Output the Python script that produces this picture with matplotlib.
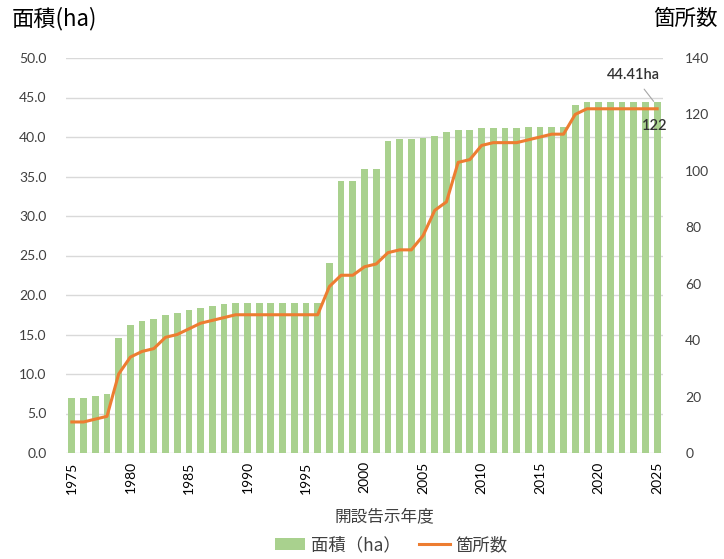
import matplotlib
matplotlib.use("Agg")
import matplotlib.pyplot as plt
import numpy as np

years = list(range(1975, 2026))
area_ha = [7.0, 7.0, 7.2, 7.5, 14.6, 16.2, 16.7, 16.9, 17.5, 17.7,
           18.1, 18.3, 18.6, 18.9, 19.0, 19.0, 19.0, 19.0, 19.0, 19.0,
           19.0, 19.0, 24.0, 34.4, 34.4, 36.0, 36.0, 39.5, 39.8, 39.8,
           39.9, 40.1, 40.6, 40.9, 40.9, 41.2, 41.2, 41.2, 41.2, 41.3,
           41.3, 41.3, 41.3, 44.1, 44.41, 44.41, 44.41, 44.41, 44.41, 44.41,
           44.41]
count = [11, 11, 12, 13, 28, 34, 36, 37, 41, 42,
         44, 46, 47, 48, 49, 49, 49, 49, 49, 49,
         49, 49, 59, 63, 63, 66, 67, 71, 72, 72,
         77, 86, 89, 103, 104, 109, 110, 110, 110, 111,
         112, 113, 113, 120, 122, 122, 122, 122, 122, 122,
         122]
xtick_years = [1975, 1980, 1985, 1990, 1995, 2000, 2005, 2010, 2015, 2020, 2025]
left_ticks = [0, 5, 10, 15, 20, 25, 30, 35, 40, 45, 50]
right_ticks = [0, 20, 40, 60, 80, 100, 120, 140]

JP = ['Noto Sans CJK JP', 'DejaVu Sans']
NUM = ['Lato', 'DejaVu Sans']
green = '#A9D18E'
orange = '#ED7D31'
txt = '#404040'

fig = plt.figure(figsize=(7.24, 5.59), dpi=100)
ax = fig.add_axes([66/724, 1-453/559, (663-66)/724, (453-58)/559])
ax2 = ax.twinx()

ax.bar(years, area_ha, width=0.58, color=green, zorder=2, label='面積（ha）')
ax.set_ylim(0, 50)
ax.set_xlim(1975-0.5, 2025+0.5)
ax.set_yticks(left_ticks)
ax.set_yticklabels([f"{v:.1f}" for v in left_ticks], fontsize=10, color=txt, family=NUM)
ax.grid(axis='y', color='#D9D9D9', linewidth=1, zorder=0)
ax.set_axisbelow(True)
ax.set_xticks(xtick_years)
ax.set_xticklabels([str(y) for y in xtick_years], rotation=90, fontsize=10, color='black', family=NUM)
ax.tick_params(axis='both', length=0)
ax.tick_params(axis='y', pad=14)
ax.tick_params(axis='x', pad=6)
for s in ax.spines.values():
    s.set_visible(False)

ax2.plot(years, count, color=orange, linewidth=2.2, zorder=3, label='箇所数')
ax2.set_ylim(0, 140)
ax2.set_yticks(right_ticks)
ax2.set_yticklabels([str(v) for v in right_ticks], fontsize=10, color=txt, family=NUM)
ax2.tick_params(axis='y', length=0, pad=16)
for s in ax2.spines.values():
    s.set_visible(False)

# annotations
ax.annotate(f"{area_ha[-1]:.2f}ha", xy=(years[-1]-0.3, area_ha[-1]+0.1),
            xytext=(years[-1]-2.05, 47.85), fontsize=10.5, color='#333333', family=NUM,
            fontweight='semibold', ha='center', va='center',
            arrowprops=dict(arrowstyle='-', color='#A6A6A6', lw=0.8, shrinkA=4, shrinkB=0))
ax2.text(years[-1]-0.2, count[-1]-6.2, str(count[-1]), fontsize=10.5, color='#333333', family=NUM,
         fontweight='semibold', ha='center', va='center')

# axis titles
fig.text(12/724, 1-19/559, '面積(ha)', fontsize=16, family=JP, ha='left', va='center', color='black')
fig.text(718/724, 1-19/559, '箇所数', fontsize=15.5, family=JP, ha='right', va='center', color='black')
fig.text(384/724, 1-517/559, '開設告示年度', fontsize=12, family=JP, ha='center', va='center', color=txt)

# legend
h1, l1 = ax.get_legend_handles_labels()
h2, l2 = ax2.get_legend_handles_labels()
leg = fig.legend(h1 + h2, l1 + l2, loc='center', bbox_to_anchor=(391/724, 1-545/559), ncol=2,
                 frameon=False, prop={'family': JP, 'size': 12.5}, handlelength=1.75,
                 columnspacing=1.1, handletextpad=0.3)
for t in leg.get_texts():
    t.set_color(txt)

fig.savefig('out.png', dpi=100)
